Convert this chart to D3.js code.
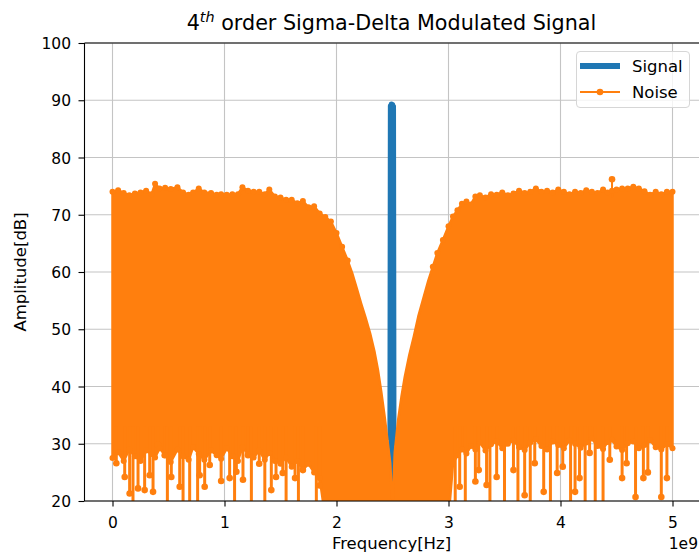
<!DOCTYPE html>
<html><head><meta charset="utf-8">
<script src="https://cdn.jsdelivr.net/npm/d3@7"></script>
<style>body{margin:0;background:#fff}svg{display:block;font-family:"DejaVu Sans",sans-serif}</style>
</head><body><svg id="c" width="699" height="555"></svg>
<script>
// ---------- data (frequency in units of 1e9 Hz, amplitude in dB) ----------
const xTicks = [0, 1, 2, 3, 4, 5];
const yTicks = [20, 30, 40, 50, 60, 70, 80, 90, 100];

const signalFreq = [2.479, 2.483, 2.487, 2.491, 2.495, 2.499, 2.503, 2.507, 2.511];
const signalAmp  = [31.0, 89.0, 29.5, 89.3, 21.5, 89.2, 30.0, 88.9, 31.5];

const noiseFreq = [0.00,0.05,0.10,0.15,0.20,0.25,0.30,0.35,0.38,0.42,0.47,0.52,0.58,0.63,0.68,0.72,0.77,0.82,0.88,0.93,0.97,1.02,1.07,1.12,1.16,1.21,1.26,1.31,1.36,1.40,1.45,1.50,1.55,1.60,1.65,1.70,1.75,1.80,1.85,1.90,1.95,2.00,2.05,2.10,2.14,2.18,2.22,2.26,2.30,2.34,2.37,2.40,2.43,2.46,2.48,2.495,
  2.505,2.52,2.55,2.58,2.61,2.65,2.69,2.73,2.78,2.82,2.86,2.90,2.95,3.00,3.04,3.08,3.12,3.16,3.20,3.24,3.28,3.33,3.38,3.43,3.48,3.53,3.58,3.63,3.68,3.73,3.78,3.83,3.88,3.93,3.98,4.03,4.08,4.13,4.18,4.23,4.28,4.33,4.38,4.42,4.46,4.50,4.55,4.60,4.65,4.70,4.75,4.80,4.85,4.90,4.95,5.00];
const noiseTop = [74.0,74.3,73.8,73.4,73.7,73.9,74.2,73.6,75.4,74.6,74.7,74.5,74.8,73.9,73.5,73.9,74.6,73.9,73.8,73.5,73.6,73.5,73.6,73.6,74.8,74.2,74.0,74.0,73.6,74.4,73.2,73.0,72.6,72.6,72.0,72.4,71.3,71.5,70.2,69.6,68.8,66.8,64.4,62.0,59.8,57.2,54.5,52.0,49.3,46.0,42.9,39.0,34.7,29.8,26.6,20.5,
  20.5,28.5,34.1,38.2,41.7,45.5,48.7,52.2,55.7,58.5,60.9,63.3,65.6,68.0,69.7,70.8,71.9,72.3,71.8,73.2,73.4,73.0,73.6,73.5,73.9,73.4,73.7,74.2,73.8,74.0,74.6,74.0,74.2,73.9,74.4,74.0,73.6,74.0,73.8,74.3,74.0,73.8,74.4,73.9,74.2,74.4,74.6,74.6,74.9,74.6,74.1,73.5,74.0,73.6,74.0,74.0];
const noiseLow = [27.5,28.5,27.0,29.0,27.8,27.0,28.8,28.2,27.6,29.2,28.0,26.8,29.0,27.8,27.2,29.4,28.2,27.2,28.8,28.0,27.4,29.2,27.8,27.0,29.4,28.2,27.6,28.8,27.2,28.4,27.0,26.5,27.6,26.0,27.0,25.5,26.5,25.0,24.0,
  17,17,17,17,17,17,17,17,17,17,17,17,17,17,17,17,17,
  17,17,17,17,17,17,17,17,17,17,17,17,17,17,
  26.5,28.0,29.0,28.3,29.6,29.0,30.2,28.8,29.9,30.4,29.2,30.0,30.6,29.4,28.9,30.2,30.8,29.6,29.0,30.4,29.8,29.2,30.6,30.0,29.3,30.2,30.9,29.6,29.1,30.3,30.7,29.5,28.9,30.1,30.4,29.2,29.8,30.6,29.4,29.0,29.9,29.2];

// downward noise spikes: frequency, minimum amplitude (values below 20 are off-axis)
const dipFreq = [0.034,0.109,0.153,0.183,0.228,0.287,0.332,0.362,0.406,0.466,0.49,0.525,0.60,0.63,0.689,0.76,0.778,0.823,0.868,0.97,1.046,1.09,1.106,1.165,1.21,1.24,1.31,1.36,1.418,1.46,1.52,1.55,1.63,1.66,1.70,1.82,1.85,
  3.06,3.10,3.15,3.24,3.27,3.34,3.37,3.43,3.50,3.58,3.62,3.68,3.73,3.77,3.85,3.91,3.97,4.02,4.09,4.13,4.17,4.22,4.26,4.31,4.38,4.44,4.55,4.59,4.67,4.74,4.78,4.90,4.95];
const dipAmp = [26.6,24.2,21.3,15,22.2,21.9,24.5,21.6,29.8,28.0,15,24.2,22.5,15,15,15,24.5,22.5,26.3,23.5,24.0,15,25.1,23.7,28.0,15,26.5,15,21.9,24.2,24.9,15,24.0,15,25.4,15,22.7,
  15,22.5,15,23.4,25.4,22.8,15,24.2,15,25.4,15,21.0,15,26.6,21.6,15,24.9,26.0,15,21.6,24.0,15,28.4,15,15,27.2,24.0,26.6,20.7,24.0,25.0,20.7,24.0];

// upward noise spikes
const peakFreq = [4.46];
const peakAmp  = [76.2];

const seriesNames = ["Signal", "Noise"];
const titleMain = "4", titleSup = "th", titleRest = " order Sigma-Delta Modulated Signal";
const xLabel = "Frequency[Hz]", yLabel = "Amplitude[dB]", xOffset = "1e9";

// ---------- chart ----------
const BLUE = "#1f77b4", ORANGE = "#ff7f0e";
const svg = d3.select("#c");
const M = {l: 84.5, t: 43, r: 700.5, b: 501};
const x = d3.scaleLinear().domain([-0.25, 5.25]).range([M.l, M.r]);
const y = d3.scaleLinear().domain([20, 100]).range([M.b, M.t]);

svg.append("defs").append("clipPath").attr("id", "clip")
  .append("rect").attr("x", M.l).attr("y", M.t).attr("width", M.r - M.l).attr("height", M.b - M.t);

// grid
const grid = svg.append("g").attr("stroke", "#c4c4c4").attr("stroke-width", 1.1);
grid.selectAll(".gx").data(xTicks).join("line")
  .attr("x1", d => x(d)).attr("x2", d => x(d)).attr("y1", M.t).attr("y2", M.b);
grid.selectAll(".gy").data(yTicks).join("line")
  .attr("y1", d => y(d)).attr("y2", d => y(d)).attr("x1", M.l).attr("x2", M.r);

const plot = svg.append("g").attr("clip-path", "url(#clip)");

// signal
const sigPts = signalFreq.map((f, i) => [f, signalAmp[i]]);
plot.append("path").datum(sigPts)
  .attr("d", d3.line().x(d => x(d[0])).y(d => y(d[1])))
  .attr("fill", "none").attr("stroke", BLUE).attr("stroke-width", 5.5)
  .attr("stroke-linejoin", "round").attr("stroke-linecap", "round");

// noise
const nPts = noiseFreq.map((f, i) => ({f, top: noiseTop[i], low: noiseLow[i]}));
plot.append("path").datum(nPts)
  .attr("d", d3.area().x(d => x(d.f)).y0(d => y(d.low)).y1(d => y(d.top)))
  .attr("fill", ORANGE).attr("stroke", ORANGE).attr("stroke-width", 2.5).attr("stroke-linejoin", "round");

// dips
const dips = dipFreq.map((f, i) => ({f, a: dipAmp[i]}));
plot.selectAll(".dip").data(dips).join("line")
  .attr("x1", d => x(d.f)).attr("x2", d => x(d.f))
  .attr("y1", y(33)).attr("y2", d => y(d.a))
  .attr("stroke", ORANGE).attr("stroke-width", 3);
plot.selectAll(".dipdot").data(dips.filter(d => d.a > 20)).join("circle")
  .attr("cx", d => x(d.f)).attr("cy", d => y(d.a)).attr("r", 3.3).attr("fill", ORANGE);

// peaks
const peaks = peakFreq.map((f, i) => ({f, a: peakAmp[i]}));
plot.selectAll(".pk").data(peaks).join("line")
  .attr("x1", d => x(d.f)).attr("x2", d => x(d.f))
  .attr("y1", y(73)).attr("y2", d => y(d.a))
  .attr("stroke", ORANGE).attr("stroke-width", 2);
plot.selectAll(".pkdot").data(peaks).join("circle")
  .attr("cx", d => x(d.f)).attr("cy", d => y(d.a)).attr("r", 3.3).attr("fill", ORANGE);

// markers on upper and lower edges
plot.selectAll(".topdot").data(nPts.filter(d => d.top > 60)).join("circle")
  .attr("cx", d => x(d.f)).attr("cy", d => y(d.top)).attr("r", 3).attr("fill", ORANGE);
plot.selectAll(".lowdot").data(nPts.filter(d => d.low > 20)).join("circle")
  .attr("cx", d => x(d.f)).attr("cy", d => y(d.low)).attr("r", 3).attr("fill", ORANGE);

// spines
const sp = svg.append("g").attr("stroke", "#000").attr("stroke-width", 1.1);
sp.append("line").attr("x1", M.l).attr("x2", M.l).attr("y1", M.t).attr("y2", M.b);
sp.append("line").attr("x1", M.l).attr("x2", M.r).attr("y1", M.b).attr("y2", M.b);
sp.append("line").attr("x1", M.l).attr("x2", M.r).attr("y1", M.t).attr("y2", M.t);
sp.append("line").attr("x1", M.r).attr("x2", M.r).attr("y1", M.t).attr("y2", M.b);

// axes
const FS = "15.5px";
const gx = svg.append("g").attr("transform", `translate(0,${M.b})`)
  .call(d3.axisBottom(x).tickValues(xTicks).tickSize(5.5).tickFormat(d3.format("d")));
gx.select(".domain").remove();
gx.selectAll("line").attr("stroke", "#000").attr("stroke-width", 1.1);
gx.selectAll("text").attr("y", 27).attr("dy", 0).attr("fill", "#000")
  .style("font-size", FS).style("font-family", "DejaVu Sans");

const gy = svg.append("g").attr("transform", `translate(${M.l},0)`)
  .call(d3.axisLeft(y).tickValues(yTicks).tickSize(6).tickPadding(7.5).tickFormat(d3.format("d")));
gy.select(".domain").remove();
gy.selectAll("line").attr("stroke", "#000").attr("stroke-width", 1.1);
gy.selectAll("text").attr("fill", "#000").attr("dy", "0.36em")
  .style("font-size", FS).style("font-family", "DejaVu Sans");

// title
const t = svg.append("text").attr("x", (M.l + M.r) / 2 - 1).attr("y", 30)
  .attr("text-anchor", "middle").style("font-size", "20.7px").attr("fill", "#000");
t.append("tspan").text(titleMain);
t.append("tspan").attr("dy", -8).style("font-size", "14.4px").style("font-style", "italic").text(titleSup);
t.append("tspan").attr("dy", 8).text(titleRest);

// axis labels
svg.append("text").attr("x", (M.l + M.r) / 2 - 1).attr("y", 549).attr("text-anchor", "middle")
  .style("font-size", "16.5px").attr("fill", "#000").text(xLabel);
svg.append("text").attr("transform", "translate(26,272) rotate(-90)").attr("text-anchor", "middle")
  .style("font-size", "16.5px").attr("fill", "#000").text(yLabel);
svg.append("text").attr("x", 698).attr("y", 549).attr("text-anchor", "end")
  .style("font-size", FS).attr("fill", "#000").text(xOffset);

// legend
const lg = svg.append("g");
lg.append("rect").attr("x", 576.5).attr("y", 51.5).attr("width", 113).attr("height", 56).attr("rx", 3.5)
  .attr("fill", "#fff").attr("fill-opacity", 0.8).attr("stroke", "#d6d6d6").attr("stroke-width", 1);
const legendY = [66, 92];
const legendColor = [BLUE, ORANGE];
seriesNames.forEach((name, i) => {
  lg.append("line").attr("x1", 580).attr("x2", 620).attr("y1", legendY[i]).attr("y2", legendY[i])
    .attr("stroke", legendColor[i]).attr("stroke-width", i === 0 ? 6 : 1.8);
  if (i === 1) lg.append("circle").attr("cx", 600).attr("cy", legendY[i]).attr("r", 3.3).attr("fill", ORANGE);
  lg.append("text").attr("x", 632).attr("y", legendY[i] + 6).style("font-size", "16.5px")
    .attr("fill", "#000").text(name);
});
</script></body></html>
